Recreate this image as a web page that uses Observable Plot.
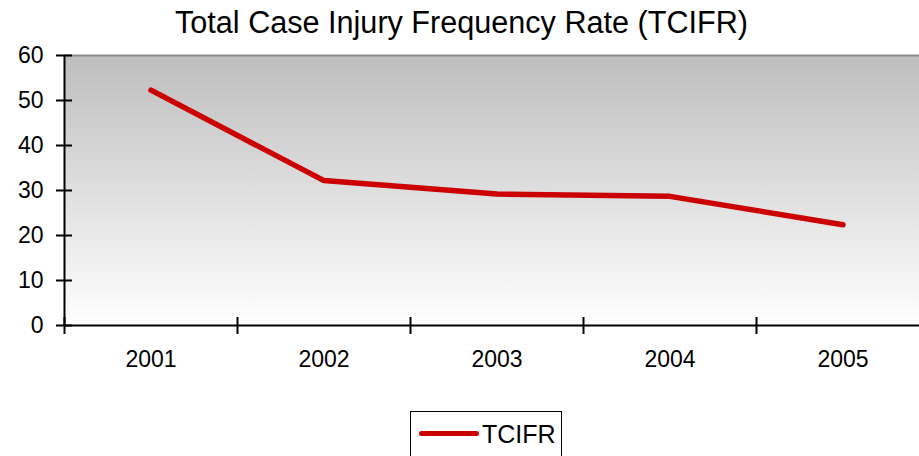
<!DOCTYPE html>
<html>
<head>
<meta charset="utf-8">
<script src="https://cdn.jsdelivr.net/npm/d3@7"></script>
<script src="https://cdn.jsdelivr.net/npm/@observablehq/plot@0.6"></script>
<style>
  html, body { margin: 0; padding: 0; background: #fff; overflow: hidden; }
  body { width: 919px; height: 456px; font-family: "Liberation Sans", Arial, sans-serif; }
  #title { height: 45px; font-size: 30.6px; line-height: 45px; text-align: center; color: #000; padding-left: 4px; box-sizing: border-box; }
  #chart svg { display: block; }
  #legend { position: absolute; left: 410px; top: 411px; width: 152px; height: 60px; border: 1.5px solid #000; box-sizing: border-box; background: #fff; }
  #legend .swatch { position: absolute; left: 8px; top: 19px; width: 60px; height: 5px; background: #cc0000; border-radius: 3px; }
  #legend .lbl { position: absolute; left: 71px; top: 8px; font-size: 25px; line-height: 28px; }
</style>
</head>
<body>
<div id="title">Total Case Injury Frequency Rate (TCIFR)</div>
<div id="chart"></div>
<div id="legend"><div class="swatch"></div><div class="lbl">TCIFR</div></div>
<script>
const years = [2001, 2002, 2003, 2004, 2005];
const tcifr = [52.3, 32.2, 29.2, 28.7, 22.4];
const yTicks = [0, 10, 20, 30, 40, 50, 60];
const seriesName = "TCIFR";

const data = years.map((yr, i) => ({year: yr, value: tcifr[i]}));
const boundaries = [years[0] - 0.5, ...years.map(y => y + 0.5)];

const plot = Plot.plot({
  width: 919,
  height: 365,
  marginTop: 10,
  marginBottom: 85,
  marginLeft: 64,
  marginRight: 0,
  style: {fontFamily: "Liberation Sans, Arial, sans-serif", background: "transparent", overflow: "visible"},
  x: {type: "linear", domain: [years[0] - 0.5, years[years.length - 1] + 0.5], range: [64, 929]},
  y: {domain: [0, 60]},
  marks: [
    Plot.frame({fill: "url(#bggrad)", stroke: null}),
    Plot.ruleY([60], {stroke: "#8c8c8c", strokeWidth: 2}),
    Plot.line(data, {x: "year", y: "value", stroke: "#cc0000", strokeWidth: 5.5, strokeLinecap: "round", strokeLinejoin: "round"}),
    Plot.ruleY([0], {stroke: "#000", strokeWidth: 2}),
    Plot.ruleX([boundaries[0]], {stroke: "#000", strokeWidth: 2}),
    Plot.axisY({ticks: yTicks, tickSize: 16, dx: 8, strokeWidth: 2, text: null, label: null}),
    Plot.text(yTicks, {y: d => d, frameAnchor: "left", dx: -21, textAnchor: "end", fontSize: 23, fill: "#000"}),
    Plot.axisX({ticks: boundaries, tickSize: 17, dy: -8, strokeWidth: 2, text: null, label: null}),
    Plot.text(years, {x: d => d, frameAnchor: "bottom", dy: 41, fontSize: 23, fill: "#000", text: d => String(d)})
  ]
});

const svg = d3.select(plot);
const defs = svg.insert("defs", ":first-child");
const grad = defs.append("linearGradient").attr("id", "bggrad").attr("x1", 0).attr("y1", 0).attr("x2", 0).attr("y2", 1);
grad.append("stop").attr("offset", "0%").attr("stop-color", "#bebebe");
grad.append("stop").attr("offset", "100%").attr("stop-color", "#ffffff");

document.getElementById("chart").appendChild(plot);
</script>
</body>
</html>
